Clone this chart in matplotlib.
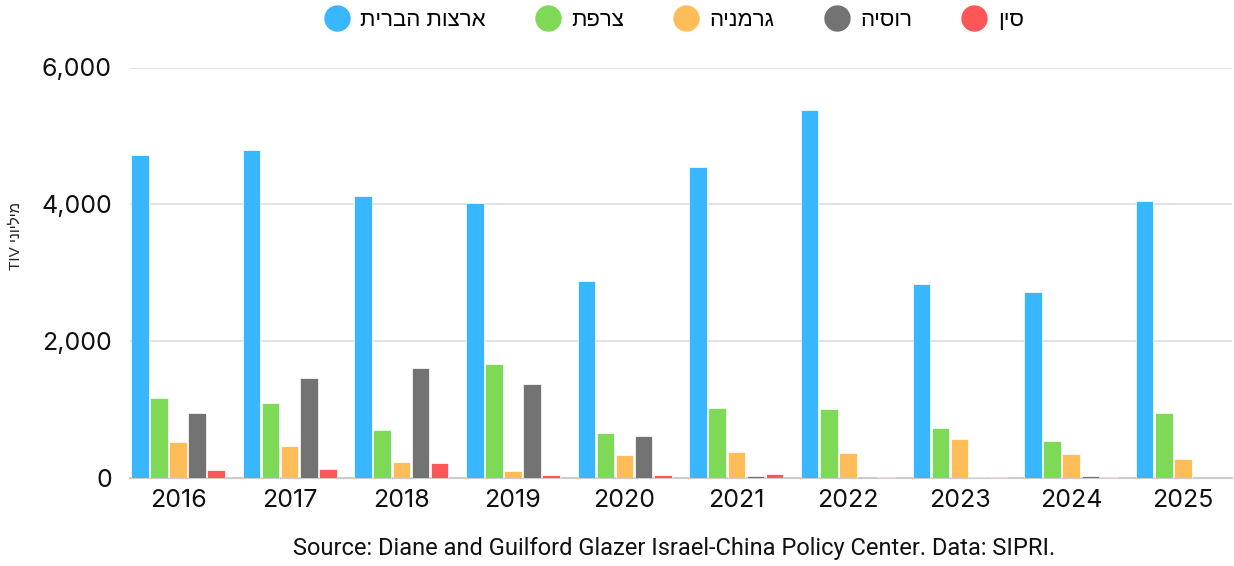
import matplotlib
matplotlib.use("Agg")
import matplotlib.pyplot as plt
from matplotlib.lines import Line2D
import numpy as np

years = ["2016", "2017", "2018", "2019", "2020", "2021", "2022", "2023", "2024", "2025"]
series_names = ["ארצות הברית", "צרפת", "גרמניה", "רוסיה", "סין"]
usa = [4720, 4790, 4120, 4020, 2875, 4540, 5380, 2835, 2715, 4050]
france = [1170, 1095, 700, 1665, 655, 1025, 1010, 727, 536, 944]
germany = [520, 468, 234, 107, 336, 380, 365, 570, 345, 272]
russia = [946, 1457, 1603, 1369, 609, 29, 0, 12, 25, 0]
china = [121, 131, 219, 38, 44, 58, 12, 8, 10, 0]
colors = ["#38B6FF", "#7ED957", "#FFBD59", "#737373", "#FF5757"]
yticks = [0, 2000, 4000, 6000]
ylabel = "מיליוני TIV"
source = "Source: Diane and Guilford Glazer Israel-China Policy Center. Data: SIPRI."


def is_heb(ch):
    return "\u0590" <= ch <= "\u05FF"


def visual_rtl(s):
    # matplotlib has no bidi support: lay out an RTL paragraph by hand
    r = s[::-1]
    out, run = [], []
    for ch in r:
        if is_heb(ch) or ch == " ":
            if run:
                out.append("".join(run[::-1]))
                run = []
            out.append(ch)
        else:
            run.append(ch)
    if run:
        out.append("".join(run[::-1]))
    return "".join(out)


W, H = 1234, 566
fig = plt.figure(figsize=(W / 100, H / 100), dpi=100)
ax = fig.add_axes([130 / W, 1 - 478 / H, (1232 - 130) / W, (478 - 67.5) / H])

data = [usa, france, germany, russia, china]
x = np.arange(len(years))
slot = 0.171
bw = 0.157
for i, (vals, c) in enumerate(zip(data, colors)):
    ax.bar(x + (i - 2) * slot, vals, width=bw, color=c, edgecolor="white",
           linewidth=0.5, zorder=3)

ax.set_xlim(-0.43, len(years) - 1 + 0.44)
ax.set_ylim(0, 6000)
ax.set_yticks(yticks)
ax.set_yticklabels([f"{v:,}" for v in yticks])
ax.set_xticks(x)
ax.set_xticklabels(years)
ax.grid(axis="y", color="#dddddd", linewidth=1.2, zorder=0)
for s in ["top", "right", "left"]:
    ax.spines[s].set_visible(False)
ax.spines["bottom"].set_color("#cccccc")
ax.spines["bottom"].set_linewidth(1.5)
ax.tick_params(axis="both", length=0, labelsize=18, labelcolor="#111111")
ax.tick_params(axis="y", pad=13)
ax.tick_params(axis="x", pad=8)
for lab in ax.get_xticklabels() + ax.get_yticklabels():
    lab.set_fontfamily(["Inter", "DejaVu Sans"])

fig.text(16 / W, 1 - 236 / H, visual_rtl(ylabel), rotation=90, ha="center",
         va="center", fontsize=11, family=["Liberation Sans", "DejaVu Sans"],
         color="#222222")

handles = [Line2D([0], [0], marker="o", linestyle="none", markersize=18,
                  markerfacecolor=c, markeredgecolor=c) for c in colors]
leg = fig.legend(handles, [visual_rtl(n) for n in series_names], loc="center",
                 bbox_to_anchor=(674 / W, 1 - 20 / H), ncol=5, frameon=False,
                 prop={"family": ["Liberation Sans", "DejaVu Sans"], "size": 16},
                 handletextpad=0.5, columnspacing=2.25, handlelength=1.1,
                 borderpad=0, borderaxespad=0)

fig.text(674 / W, 1 - 548 / H, source, ha="center", va="center", fontsize=17,
         family=["Roboto", "DejaVu Sans"], color="#111111")

fig.savefig("out.png", dpi=100)
